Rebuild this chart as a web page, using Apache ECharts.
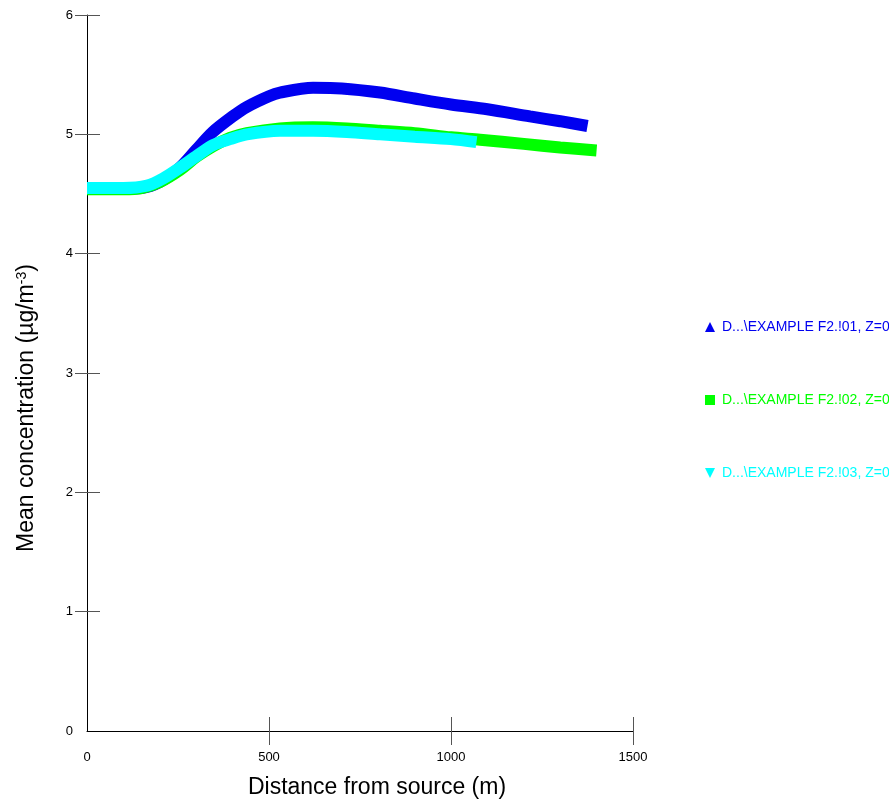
<!DOCTYPE html>
<html>
<head>
<meta charset="utf-8">
<script src="https://cdn.jsdelivr.net/npm/echarts@6/dist/echarts.min.js"></script>
<style>
  html, body { margin: 0; padding: 0; background: #fff; }
  #chart { width: 889px; height: 805px; }
</style>
</head>
<body>
<div id="chart"></div>
<script>
var myChart = echarts.init(document.getElementById('chart'));

var names = ['D...\\EXAMPLE F2.!01, Z=0', 'D...\\EXAMPLE F2.!02, Z=0', 'D...\\EXAMPLE F2.!03, Z=0'];
var colors = ['#0000f0', '#00ff00', '#00ffff'];

var dist01 = [0, 100, 150, 200, 255, 300, 346, 400, 439, 500, 530, 621, 700, 805, 900, 1000, 1100, 1217, 1300, 1375];
var conc01 = [4.545, 4.545, 4.55, 4.60, 4.72, 4.87, 5.02, 5.15, 5.23, 5.32, 5.35, 5.39, 5.385, 5.35, 5.30, 5.25, 5.21, 5.15, 5.11, 5.07];

var dist02 = [0, 100, 150, 200, 255, 300, 346, 393, 439, 530, 621, 714, 805, 900, 1000, 1080, 1200, 1300, 1400];
var conc02 = [4.54, 4.54, 4.55, 4.60, 4.70, 4.81, 4.90, 4.97, 5.01, 5.05, 5.06, 5.05, 5.03, 5.01, 4.975, 4.955, 4.92, 4.89, 4.865];

var dist03 = [0, 100, 165, 209, 255, 302, 346, 393, 439, 530, 621, 714, 805, 900, 1000, 1070];
var conc03 = [4.55, 4.55, 4.57, 4.63, 4.72, 4.82, 4.91, 4.96, 5.00, 5.03, 5.03, 5.02, 5.00, 4.98, 4.96, 4.935];

var xTicks = [500, 1000, 1500];
var yTicks = [1, 2, 3, 4, 5, 6];

function pairs(xs, ys) {
    return xs.map(function (x, i) { return [x, ys[i]]; });
}

var font = 'Liberation Sans, Arial, sans-serif';
var tickColor = '#555';

function lineSeries(i, xs, ys) {
    return {
        name: names[i],
        type: 'line',
        smooth: 0.3,
        showSymbol: false,
        data: pairs(xs, ys),
        itemStyle: { color: colors[i] },
        lineStyle: { color: colors[i], width: 12, cap: 'butt' }
    };
}

var option = {
    animation: false,
    backgroundColor: '#fff',
    grid: { left: 87, right: 256, top: 15, bottom: 74 },
    xAxis: [
        {
            type: 'value', min: 0, max: 1500, interval: 500,
            axisLine: { lineStyle: { color: '#000', width: 1 } },
            axisTick: { show: true, inside: false, length: 14, customValues: xTicks, lineStyle: { color: tickColor } },
            axisLabel: { margin: 20, color: '#000', fontSize: 13, fontFamily: font, formatter: function (v) { return String(v); } },
            splitLine: { show: false }
        },
        {
            type: 'value', min: 0, max: 1500, interval: 500, position: 'bottom',
            axisLine: { show: false },
            axisTick: { show: true, inside: true, length: 14, customValues: xTicks, lineStyle: { color: tickColor } },
            axisLabel: { show: false },
            splitLine: { show: false }
        }
    ],
    yAxis: [
        {
            type: 'value', min: 0, max: 6, interval: 1,
            axisLine: { show: true, lineStyle: { color: '#000', width: 1 } },
            axisTick: { show: true, inside: false, length: 12, customValues: yTicks, lineStyle: { color: tickColor } },
            axisLabel: { margin: 14, color: '#000', fontSize: 13, fontFamily: font },
            splitLine: { show: false }
        },
        {
            type: 'value', min: 0, max: 6, interval: 1, position: 'left',
            axisLine: { show: false },
            axisTick: { show: true, inside: true, length: 13, customValues: yTicks, lineStyle: { color: tickColor } },
            axisLabel: { show: false },
            splitLine: { show: false }
        }
    ],
    legend: {
        orient: 'vertical',
        left: 700,
        top: 315,
        itemWidth: 10,
        itemHeight: 10,
        itemGap: 59,
        textStyle: { fontSize: 14, fontFamily: font, padding: [0, 0, 0, 2] },
        data: [
            { name: names[0], icon: 'triangle', textStyle: { color: colors[0] } },
            { name: names[1], icon: 'rect', textStyle: { color: colors[1] } },
            { name: names[2], icon: 'path://M0,0L10,0L5,10Z', textStyle: { color: colors[2] } }
        ]
    },
    graphic: [
        {
            type: 'text',
            x: 377, y: 788,
            style: {
                text: 'Distance from source (m)',
                font: '23px ' + font,
                fill: '#000',
                align: 'center',
                verticalAlign: 'middle'
            }
        },
        {
            type: 'text',
            x: 27, y: 408,
            rotation: Math.PI / 2,
            style: {
                text: 'Mean concentration (µg/m{sup|-3})',
                font: '23px ' + font,
                fill: '#000',
                align: 'center',
                verticalAlign: 'middle',
                rich: {
                    sup: { fontSize: 14, fontFamily: font, fill: '#000', padding: [0, 0, 10, 0] }
                }
            }
        }
    ],
    series: [
        lineSeries(0, dist01, conc01),
        lineSeries(1, dist02, conc02),
        lineSeries(2, dist03, conc03)
    ]
};

myChart.setOption(option);
</script>
</body>
</html>
